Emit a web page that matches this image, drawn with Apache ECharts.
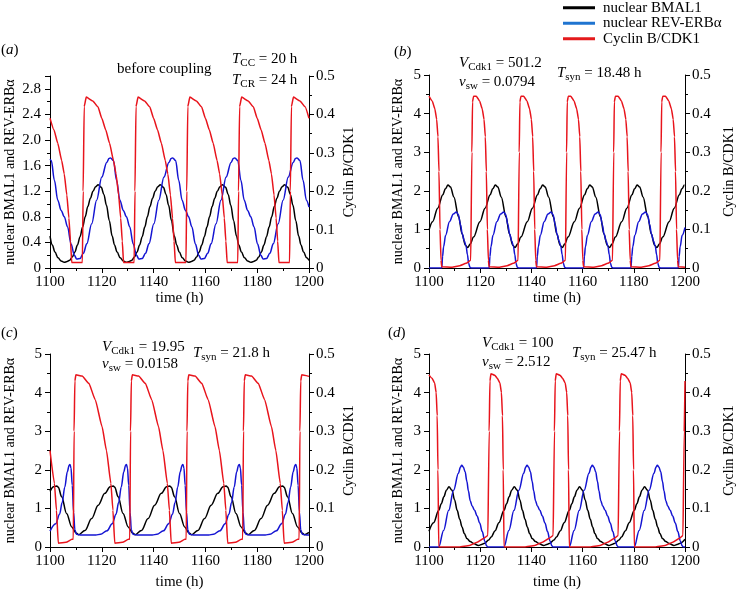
<!DOCTYPE html>
<html><head><meta charset="utf-8">
<script src="https://cdn.jsdelivr.net/npm/echarts@6/dist/echarts.min.js"></script>
<style>html,body{margin:0;padding:0;background:#fff}#c{width:737px;height:592px}</style>
</head><body><div id="c"></div><script>
const FONT = 'Liberation Serif';
const xTickValues = [1100, 1120, 1140, 1160, 1180, 1200];
const seriesNames = ['nuclear BMAL1', 'nuclear REV-ERBα', 'Cyclin B/CDK1'];

// ---------- panel (a): before coupling ----------
const aBmal1 = [
[1100,0.5],[1100.9,0.36],[1101.9,0.25],[1103.1,0.16],[1104.3,0.11],[1105.5,0.09],
[1106.6,0.10],[1107.6,0.12],[1108.6,0.17],[1109.6,0.25],[1110.6,0.36],[1111.6,0.49],[1112.6,0.64],[1113.6,0.80],[1114.6,0.96],[1115.6,1.09],[1116.6,1.20],[1117.6,1.27],[1118.6,1.30],[1119.8,1.26],[1120.8,1.15],[1121.8,0.98],[1122.9,0.74],[1124.0,0.50],[1124.9,0.36],[1125.9,0.25],[1127.1,0.16],[1128.3,0.11],[1129.5,0.09],
[1130.6,0.10],[1131.6,0.12],[1132.6,0.17],[1133.6,0.25],[1134.6,0.36],[1135.6,0.49],[1136.6,0.64],[1137.6,0.80],[1138.6,0.96],[1139.6,1.09],[1140.6,1.20],[1141.6,1.27],[1142.6,1.30],[1143.8,1.26],[1144.8,1.15],[1145.8,0.98],[1146.9,0.74],[1148.0,0.50],[1148.9,0.36],[1149.9,0.25],[1151.1,0.16],[1152.3,0.11],[1153.5,0.09],
[1154.6,0.10],[1155.6,0.12],[1156.6,0.17],[1157.6,0.25],[1158.6,0.36],[1159.6,0.49],[1160.6,0.64],[1161.6,0.80],[1162.6,0.96],[1163.6,1.09],[1164.6,1.20],[1165.6,1.27],[1166.6,1.30],[1167.8,1.26],[1168.8,1.15],[1169.8,0.98],[1170.9,0.74],[1172.0,0.50],[1172.9,0.36],[1173.9,0.25],[1175.1,0.16],[1176.3,0.11],[1177.5,0.09],
[1178.6,0.10],[1179.6,0.12],[1180.6,0.17],[1181.6,0.25],[1182.6,0.36],[1183.6,0.49],[1184.6,0.64],[1185.6,0.80],[1186.6,0.96],[1187.6,1.09],[1188.6,1.20],[1189.6,1.27],[1190.6,1.30],[1191.8,1.26],[1192.8,1.15],[1193.8,0.98],[1194.9,0.74],[1196.0,0.50],[1196.9,0.36],[1197.9,0.25],[1199.1,0.16],[1200,0.12]
];
const aRev = [
[1100,1.70],[1100.5,1.68],[1101.7,1.37],[1103.0,1.06],[1104.3,0.90],[1105.5,0.80],[1106.8,0.64],[1108.1,0.38],[1109.4,0.20],[1110.3,0.14],[1111.6,0.15],[1112.9,0.23],[1114.2,0.38],[1116.1,0.69],[1118.0,1.06],[1120.0,1.42],[1121.9,1.65],[1122.8,1.71],
[1123.4,1.72],[1124.5,1.68],[1125.7,1.37],[1127.0,1.06],[1128.3,0.90],[1129.5,0.80],[1130.8,0.64],[1132.1,0.38],[1133.4,0.20],[1134.3,0.14],[1135.6,0.15],[1136.9,0.23],[1138.2,0.38],[1140.1,0.69],[1142.0,1.06],[1144.0,1.42],[1145.9,1.65],[1146.8,1.71],
[1147.4,1.72],[1148.5,1.68],[1149.7,1.37],[1151.0,1.06],[1152.3,0.90],[1153.5,0.80],[1154.8,0.64],[1156.1,0.38],[1157.4,0.20],[1158.3,0.14],[1159.6,0.15],[1160.9,0.23],[1162.2,0.38],[1164.1,0.69],[1166.0,1.06],[1168.0,1.42],[1169.9,1.65],[1170.8,1.71],
[1171.4,1.72],[1172.5,1.68],[1173.7,1.37],[1175.0,1.06],[1176.3,0.90],[1177.5,0.80],[1178.8,0.64],[1180.1,0.38],[1181.4,0.20],[1182.3,0.14],[1183.6,0.15],[1184.9,0.23],[1186.2,0.38],[1188.1,0.69],[1190.0,1.06],[1192.0,1.42],[1193.9,1.65],[1194.8,1.71],
[1195.4,1.72],[1196.5,1.68],[1197.7,1.37],[1199.0,1.06],[1200,0.95]
];
const aCyclin = [
[1100,0.39],[1101.5,0.36],[1103,0.325],[1104.5,0.28],[1105.5,0.245],[1106.5,0.19],[1107.3,0.13],[1107.9,0.07],[1108.4,0.014],
[1112.5,0.014],[1112.8,0.2],[1113.2,0.42],[1114.0,0.445],[1116.5,0.435],[1118.5,0.42],[1120,0.39],[1121.5,0.36],[1123,0.325],[1124.5,0.28],[1125.5,0.245],[1126.5,0.19],[1127.3,0.13],[1127.9,0.07],[1128.4,0.014],
[1132.5,0.014],[1132.8,0.2],[1133.2,0.42],[1134.0,0.445],[1136.5,0.435],[1138.5,0.42],[1140,0.39],[1141.5,0.36],[1143,0.325],[1144.5,0.28],[1145.5,0.245],[1146.5,0.19],[1147.3,0.13],[1147.9,0.07],[1148.4,0.014],
[1152.5,0.014],[1152.8,0.2],[1153.2,0.42],[1154.0,0.445],[1156.5,0.435],[1158.5,0.42],[1160,0.39],[1161.5,0.36],[1163,0.325],[1164.5,0.28],[1165.5,0.245],[1166.5,0.19],[1167.3,0.13],[1167.9,0.07],[1168.4,0.014],
[1172.5,0.014],[1172.8,0.2],[1173.2,0.42],[1174.0,0.445],[1176.5,0.435],[1178.5,0.42],[1180,0.39],[1181.5,0.36],[1183,0.325],[1184.5,0.28],[1185.5,0.245],[1186.5,0.19],[1187.3,0.13],[1187.9,0.07],[1188.4,0.014],
[1192.5,0.014],[1192.8,0.2],[1193.2,0.42],[1194.0,0.445],[1196.5,0.435],[1198.5,0.42],[1200,0.39]
];

// ---------- panel (b) ----------
const bBmal1 = [
[1100,0.98],[1101.4,1.2],[1103.4,1.55],[1105.4,1.9],[1106.4,2.05],[1107.4,2.15],[1108.4,2.1],[1109.7,1.84],[1111.6,1.32],[1112.9,0.89],[1114.2,0.59],[1115.1,0.53],
[1116.1,0.62],[1117.4,0.8],[1119.9,1.2],[1121.9,1.55],[1123.9,1.9],[1124.9,2.05],[1125.9,2.15],[1126.9,2.1],[1128.2,1.84],[1130.1,1.32],[1131.4,0.89],[1132.7,0.59],[1133.6,0.53],
[1134.6,0.62],[1135.9,0.8],[1138.4,1.2],[1140.4,1.55],[1142.4,1.9],[1143.4,2.05],[1144.4,2.15],[1145.4,2.1],[1146.7,1.84],[1148.6,1.32],[1149.9,0.89],[1151.2,0.59],[1152.1,0.53],
[1153.0,0.62],[1154.3,0.8],[1156.8,1.2],[1158.8,1.55],[1160.8,1.9],[1161.8,2.05],[1162.8,2.15],[1163.8,2.1],[1165.1,1.84],[1167.0,1.32],[1168.3,0.89],[1169.6,0.59],[1170.5,0.53],
[1171.5,0.62],[1172.8,0.8],[1175.3,1.2],[1177.3,1.55],[1179.3,1.9],[1180.3,2.05],[1181.3,2.15],[1182.3,2.1],[1183.6,1.84],[1185.5,1.32],[1186.8,0.89],[1188.1,0.59],[1189.0,0.53],
[1190.0,0.62],[1191.3,0.8],[1193.8,1.2],[1195.8,1.55],[1197.8,1.9],[1198.8,2.05],[1199.8,2.15],[1200,2.15]
];
const bRev = [
[1100,0],[1105.0,0],[1105.3,0.3],[1105.7,0.55],[1106.5,0.85],[1108.0,1.2],[1109.5,1.4],[1110.7,1.45],[1111.5,1.38],[1112.3,1.12],[1113.0,0.88],[1113.8,0.7],[1114.5,0.56],[1115.0,0.35],[1115.5,0.12],[1116.0,0.02],[1116.5,0],
[1123.5,0],[1123.8,0.3],[1124.2,0.55],[1125.0,0.85],[1126.5,1.2],[1128.0,1.4],[1129.2,1.45],[1130.0,1.38],[1130.8,1.12],[1131.5,0.88],[1132.3,0.7],[1133.0,0.56],[1133.5,0.35],[1134.0,0.12],[1134.5,0.02],[1135.0,0],
[1142.0,0],[1142.3,0.3],[1142.7,0.55],[1143.5,0.85],[1145.0,1.2],[1146.5,1.4],[1147.7,1.45],[1148.5,1.38],[1149.3,1.12],[1150.0,0.88],[1150.8,0.7],[1151.5,0.56],[1152.0,0.35],[1152.5,0.12],[1153.0,0.02],[1153.5,0],
[1160.4,0],[1160.7,0.3],[1161.1,0.55],[1161.9,0.85],[1163.4,1.2],[1164.9,1.4],[1166.1,1.45],[1166.9,1.38],[1167.7,1.12],[1168.4,0.88],[1169.2,0.7],[1169.9,0.56],[1170.4,0.35],[1170.9,0.12],[1171.4,0.02],[1171.9,0],
[1178.9,0],[1179.2,0.3],[1179.6,0.55],[1180.4,0.85],[1181.9,1.2],[1183.4,1.4],[1184.6,1.45],[1185.4,1.38],[1186.2,1.12],[1186.9,0.88],[1187.7,0.7],[1188.4,0.56],[1188.9,0.35],[1189.4,0.12],[1189.9,0.02],[1190.4,0],
[1197.4,0],[1197.7,0.3],[1198.1,0.55],[1198.9,0.85],[1200,1.05]
];
const bCyclin = [
[1100,0.445],[1101.3,0.432],[1102.3,0.412],[1103.0,0.385],[1103.5,0.34],[1103.9,0.25],[1104.3,0.1],[1104.7,0.02],[1105.0,0.003],[1109.0,0.002],[1112.0,0.006],[1114.5,0.012],[1116.3,0.02],
[1116.5,0.02],[1116.75,0.3],[1117.0,0.43],[1117.4,0.445],[1118.5,0.445],[1119.8,0.432],[1120.8,0.412],[1121.5,0.385],[1122.0,0.34],[1122.4,0.25],[1122.8,0.1],[1123.2,0.02],[1123.5,0.003],[1127.5,0.002],[1130.5,0.006],[1133.0,0.012],[1134.8,0.02],
[1135.0,0.02],[1135.25,0.3],[1135.5,0.43],[1135.9,0.445],[1137.0,0.445],[1138.3,0.432],[1139.3,0.412],[1140.0,0.385],[1140.5,0.34],[1140.9,0.25],[1141.3,0.1],[1141.7,0.02],[1142.0,0.003],[1146.0,0.002],[1149.0,0.006],[1151.5,0.012],[1153.3,0.02],
[1153.5,0.02],[1153.75,0.3],[1154.0,0.43],[1154.4,0.445],[1155.4,0.445],[1156.7,0.432],[1157.7,0.412],[1158.4,0.385],[1158.9,0.34],[1159.3,0.25],[1159.7,0.1],[1160.1,0.02],[1160.4,0.003],[1164.4,0.002],[1167.4,0.006],[1169.9,0.012],[1171.7,0.02],
[1171.9,0.02],[1172.15,0.3],[1172.4,0.43],[1172.8,0.445],[1173.9,0.445],[1175.2,0.432],[1176.2,0.412],[1176.9,0.385],[1177.4,0.34],[1177.8,0.25],[1178.2,0.1],[1178.6,0.02],[1178.9,0.003],[1182.9,0.002],[1185.9,0.006],[1188.4,0.012],[1190.2,0.02],
[1190.4,0.02],[1190.65,0.3],[1190.9,0.43],[1191.3,0.445],[1192.4,0.445],[1193.7,0.432],[1194.7,0.412],[1195.4,0.385],[1195.9,0.34],[1196.3,0.25],[1196.7,0.1],[1197.1,0.02],[1197.4,0.003],[1200,0.002]
];

// ---------- panel (c) ----------
const cBmal1 = [
[1100,1.44],[1101.4,1.56],[1102.6,1.58],[1103.2,1.55],[1104.5,1.30],[1106.4,0.87],[1108.4,0.52],[1110.1,0.36],[1111.1,0.32],
[1113.5,0.43],[1116.1,0.74],[1118.6,1.08],[1121.2,1.39],[1123.2,1.56],[1124.4,1.58],[1125.0,1.55],[1126.3,1.30],[1128.2,0.87],[1130.2,0.52],[1131.9,0.36],[1132.9,0.32],
[1135.3,0.43],[1137.9,0.74],[1140.4,1.08],[1143.0,1.39],[1145.0,1.56],[1146.2,1.58],[1146.8,1.55],[1148.1,1.30],[1150.0,0.87],[1152.0,0.52],[1153.7,0.36],[1154.7,0.32],
[1157.1,0.43],[1159.7,0.74],[1162.2,1.08],[1164.8,1.39],[1166.8,1.56],[1168.0,1.58],[1168.6,1.55],[1169.9,1.30],[1171.8,0.87],[1173.8,0.52],[1175.5,0.36],[1176.5,0.32],
[1178.9,0.43],[1181.5,0.74],[1184.0,1.08],[1186.6,1.39],[1188.6,1.56],[1189.8,1.58],[1190.4,1.55],[1191.7,1.30],[1193.6,0.87],[1195.6,0.52],[1197.3,0.36],[1198.3,0.32],[1200,0.38]
];
const cRev = [
[1100,0.41],[1102.2,0.6],[1103.7,0.85],[1104.7,1.15],[1105.7,1.55],[1106.7,1.95],[1107.4,2.12],[1107.7,2.14],[1108.1,2.05],[1108.6,1.6],[1109.1,0.9],[1109.6,0.45],[1110.2,0.33],[1111.7,0.31],[1117.7,0.31],
[1119.5,0.33],[1122.0,0.42],[1124.0,0.6],[1125.5,0.85],[1126.5,1.15],[1127.5,1.55],[1128.5,1.95],[1129.2,2.12],[1129.5,2.14],[1129.9,2.05],[1130.4,1.6],[1130.9,0.9],[1131.4,0.45],[1132.0,0.33],[1133.5,0.31],[1139.5,0.31],
[1141.3,0.33],[1143.8,0.42],[1145.8,0.6],[1147.3,0.85],[1148.3,1.15],[1149.3,1.55],[1150.3,1.95],[1151.0,2.12],[1151.3,2.14],[1151.7,2.05],[1152.2,1.6],[1152.7,0.9],[1153.2,0.45],[1153.8,0.33],[1155.3,0.31],[1161.3,0.31],
[1163.1,0.33],[1165.6,0.42],[1167.6,0.6],[1169.1,0.85],[1170.1,1.15],[1171.1,1.55],[1172.1,1.95],[1172.8,2.12],[1173.1,2.14],[1173.5,2.05],[1174.0,1.6],[1174.5,0.9],[1175.0,0.45],[1175.6,0.33],[1177.1,0.31],[1183.1,0.31],
[1184.9,0.33],[1187.4,0.42],[1189.4,0.6],[1190.9,0.85],[1191.9,1.15],[1192.9,1.55],[1193.9,1.95],[1194.6,2.12],[1194.9,2.14],[1195.3,2.05],[1195.8,1.6],[1196.3,0.9],[1196.8,0.45],[1197.4,0.33],[1198.9,0.31],[1200,0.31]
];
const cCyclin = [
[1100,0.25],[1101.7,0.165],[1102.5,0.095],[1103.2,0.01],[1106.2,0.012],[1108.5,0.02],
[1109.0,0.02],[1109.3,0.3],[1109.6,0.43],[1110.0,0.446],[1112.4,0.443],[1115.0,0.424],[1117.5,0.381],[1120.1,0.312],[1121.8,0.25],[1123.5,0.165],[1124.3,0.095],[1125.0,0.01],[1128.0,0.012],[1130.3,0.02],
[1130.8,0.02],[1131.1,0.3],[1131.4,0.43],[1131.8,0.446],[1134.2,0.443],[1136.8,0.424],[1139.3,0.381],[1141.9,0.312],[1143.6,0.25],[1145.3,0.165],[1146.1,0.095],[1146.8,0.01],[1149.8,0.012],[1152.1,0.02],
[1152.6,0.02],[1152.9,0.3],[1153.2,0.43],[1153.6,0.446],[1156.0,0.443],[1158.6,0.424],[1161.1,0.381],[1163.7,0.312],[1165.4,0.25],[1167.1,0.165],[1167.9,0.095],[1168.6,0.01],[1171.6,0.012],[1173.9,0.02],
[1174.4,0.02],[1174.7,0.3],[1175.0,0.43],[1175.4,0.446],[1177.8,0.443],[1180.4,0.424],[1182.9,0.381],[1185.5,0.312],[1187.2,0.25],[1188.9,0.165],[1189.7,0.095],[1190.4,0.01],[1193.4,0.012],[1195.7,0.02],
[1196.2,0.02],[1196.5,0.3],[1196.8,0.43],[1197.2,0.446],[1200,0.442]
];

// ---------- panel (d) ----------
const dBmal1 = [
[1100,0.41],[1101.8,0.63],[1103.8,0.95],[1104.8,1.12],[1105.8,1.3],[1106.8,1.47],[1107.8,1.56],[1109.0,1.47],[1110.0,1.22],[1111.0,0.95],[1112.0,0.72],[1112.9,0.52],[1113.8,0.35],[1114.8,0.22],[1116.1,0.14],[1117.4,0.09],[1119.3,0.04],
[1120.8,0.07],[1121.8,0.10],[1123.3,0.18],[1124.3,0.26],[1125.8,0.42],[1127.3,0.63],[1129.3,0.95],[1130.3,1.12],[1131.3,1.3],[1132.3,1.47],[1133.3,1.56],[1134.5,1.47],[1135.5,1.22],[1136.5,0.95],[1137.5,0.72],[1138.4,0.52],[1139.3,0.35],[1140.3,0.22],[1141.6,0.14],[1142.9,0.09],[1144.8,0.04],
[1146.3,0.07],[1147.3,0.10],[1148.8,0.18],[1149.8,0.26],[1151.3,0.42],[1152.8,0.63],[1154.8,0.95],[1155.8,1.12],[1156.8,1.3],[1157.8,1.47],[1158.8,1.56],[1160.0,1.47],[1161.0,1.22],[1162.0,0.95],[1163.0,0.72],[1163.9,0.52],[1164.8,0.35],[1165.8,0.22],[1167.1,0.14],[1168.4,0.09],[1170.3,0.04],
[1171.7,0.07],[1172.7,0.10],[1174.2,0.18],[1175.2,0.26],[1176.7,0.42],[1178.2,0.63],[1180.2,0.95],[1181.2,1.12],[1182.2,1.3],[1183.2,1.47],[1184.2,1.56],[1185.4,1.47],[1186.4,1.22],[1187.4,0.95],[1188.4,0.72],[1189.3,0.52],[1190.2,0.35],[1191.2,0.22],[1192.5,0.14],[1193.8,0.09],[1195.7,0.04],
[1197.2,0.07],[1198.2,0.10],[1200,0.2]
];
const dRev = [
[1100,0],[1103.8,0],[1105.7,0.43],[1107.7,0.95],[1109.6,1.47],[1111.5,1.91],[1112.3,2.07],[1112.8,2.12],[1113.4,2.07],[1114.1,1.95],[1114.8,1.7],[1115.4,1.45],[1116.1,1.2],[1116.8,1.07],[1117.8,0.95],[1118.8,0.8],[1119.8,0.62],[1120.8,0.4],[1121.8,0.15],[1122.5,0.03],[1122.9,0],
[1129.3,0],[1131.2,0.43],[1133.2,0.95],[1135.1,1.47],[1137.0,1.91],[1137.8,2.07],[1138.3,2.12],[1138.9,2.07],[1139.6,1.95],[1140.3,1.7],[1140.9,1.45],[1141.6,1.2],[1142.3,1.07],[1143.3,0.95],[1144.3,0.8],[1145.3,0.62],[1146.3,0.4],[1147.3,0.15],[1148.0,0.03],[1148.4,0],
[1154.8,0],[1156.7,0.43],[1158.7,0.95],[1160.6,1.47],[1162.5,1.91],[1163.3,2.07],[1163.8,2.12],[1164.4,2.07],[1165.1,1.95],[1165.8,1.7],[1166.4,1.45],[1167.1,1.2],[1167.8,1.07],[1168.8,0.95],[1169.8,0.8],[1170.8,0.62],[1171.8,0.4],[1172.8,0.15],[1173.5,0.03],[1173.9,0],
[1180.2,0],[1182.1,0.43],[1184.1,0.95],[1186.0,1.47],[1187.9,1.91],[1188.7,2.07],[1189.2,2.12],[1189.8,2.07],[1190.5,1.95],[1191.2,1.7],[1191.8,1.45],[1192.5,1.2],[1193.2,1.07],[1194.2,0.95],[1195.2,0.8],[1196.2,0.62],[1197.2,0.4],[1198.2,0.15],[1198.9,0.03],[1199.3,0],[1200,0]
];
const dCyclin = [
[1100,0.446],[1101.2,0.437],[1102.2,0.425],[1102.8,0.40],[1103.2,0.34],[1103.5,0.2],[1103.8,0.0],[1111.8,0.0],[1115.8,0.004],[1118.8,0.012],[1121.3,0.022],[1123.0,0.03],
[1123.2,0.03],[1123.5,0.3],[1123.8,0.43],[1124.2,0.449],[1125.7,0.445],[1126.7,0.437],[1127.7,0.425],[1128.3,0.40],[1128.7,0.34],[1129.0,0.2],[1129.3,0.0],[1137.3,0.0],[1141.3,0.004],[1144.3,0.012],[1146.8,0.022],[1148.5,0.03],
[1148.7,0.03],[1149.0,0.3],[1149.3,0.43],[1149.7,0.449],[1151.2,0.445],[1152.2,0.437],[1153.2,0.425],[1153.8,0.40],[1154.2,0.34],[1154.5,0.2],[1154.8,0.0],[1162.8,0.0],[1166.8,0.004],[1169.8,0.012],[1172.3,0.022],[1173.9,0.03],
[1174.1,0.03],[1174.4,0.3],[1174.7,0.43],[1175.1,0.449],[1176.6,0.445],[1177.6,0.437],[1178.6,0.425],[1179.2,0.40],[1179.6,0.34],[1179.9,0.2],[1180.2,0.0],[1188.2,0.0],[1192.2,0.004],[1195.2,0.012],[1197.7,0.022],[1199.2,0.03],
[1199.4,0.03],[1199.7,0.3],[1200,0.43]
];

const BLACK = '#000000', BLUE = '#1414d2', RED = '#e8141c';
const panels = [
  {grid:{left:50, top:76, width:259, height:192}, lmax:3, lint:0.4, data:[aBmal1, aRev, aCyclin], lgap:33, rgap:33, xgap:23, lmargin:9},
  {grid:{left:429, top:75, width:258, height:193}, lmax:5, lint:1, data:[bBmal1, bRev, bCyclin], lgap:24, rgap:37, xgap:23, lmargin:8},
  {grid:{left:50, top:354, width:259, height:193}, lmax:5, lint:1, data:[cBmal1, cRev, cCyclin], lgap:33, rgap:33, xgap:28, lmargin:8},
  {grid:{left:429, top:354, width:258, height:193}, lmax:5, lint:1, data:[dBmal1, dRev, dCyclin], lgap:24, rgap:37, xgap:28, lmargin:8}
];

const tickTxt = {color:'#000', fontFamily:FONT, fontSize:15};
const nameTxt = {color:'#000', fontFamily:FONT, fontSize:14};
const xNameTxt = {color:'#000', fontFamily:FONT, fontSize:15};
const fmt1 = v => (Math.abs(v) < 1e-9 ? '0' : (Math.round(v*10)/10).toFixed(1));
const fmt0 = v => String(Math.round(v));
const tickStyle = {show:true, inside:false, length:5, lineStyle:{color:'#000', width:1}};
const minorStyle = {show:true, splitNumber:2, length:3, lineStyle:{color:'#000', width:1}};

const grids = [], xAxes = [], yAxes = [], series = [];
panels.forEach((p, i) => {
  grids.push(p.grid);
  xAxes.push({type:'value', gridIndex:i, min:1100, max:1200, interval:20,
    name:'time (h)', nameLocation:'middle', nameGap:p.xgap, nameTextStyle:xNameTxt,
    axisLine:{show:true, onZero:false, lineStyle:{color:'#000', width:1}},
    axisTick:tickStyle, minorTick:minorStyle, splitLine:{show:false}, minorSplitLine:{show:false},
    axisLabel:Object.assign({margin:7, formatter: v => (xTickValues.indexOf(Math.round(v))>=0 ? String(Math.round(v)) : '')}, tickTxt)});
  yAxes.push({type:'value', gridIndex:i, position:'left', min:0, max:p.lmax, interval:p.lint,
    name:'nuclear BMAL1 and REV-ERBα', nameLocation:'middle', nameRotate:90, nameGap:p.lgap, nameTextStyle:nameTxt,
    axisLine:{show:true, onZero:false, lineStyle:{color:'#000', width:1}},
    axisTick:tickStyle, minorTick:minorStyle, splitLine:{show:false}, minorSplitLine:{show:false},
    axisLabel:Object.assign({margin:p.lmargin, showMaxLabel: p.lmax === 3 ? false : true, formatter: p.lint < 1 ? fmt1 : fmt0}, tickTxt)});
  yAxes.push({type:'value', gridIndex:i, position:'right', min:0, max:0.5, interval:0.1,
    name:'Cyclin B/CDK1', nameLocation:'middle', nameRotate:90, nameGap:p.rgap, nameTextStyle:nameTxt,
    axisLine:{show:true, onZero:false, lineStyle:{color:'#000', width:1}},
    axisTick:tickStyle, minorTick:minorStyle, splitLine:{show:false}, minorSplitLine:{show:false},
    axisLabel:Object.assign({margin:7, formatter: fmt1}, tickTxt)});
  const cols = [BLACK, BLUE, RED];
  p.data.forEach((d, k) => {
    series.push({type:'line', name:seriesNames[k], xAxisIndex:i, yAxisIndex: k === 2 ? 2*i+1 : 2*i,
      data:d, showSymbol:false, symbol:'none', smooth: k === 2 ? 0.15 : 0.35, smoothMonotone:'x',
      lineStyle:{color:cols[k], width:1.5}, itemStyle:{color:cols[k]}, z: 2 + k});
  });
});

const rich = {
  n:{fontFamily:FONT, fontSize:15, lineHeight:19, color:'#000'},
  i:{fontFamily:FONT, fontSize:15, lineHeight:19, fontStyle:'italic', color:'#000'},
  s:{fontFamily:FONT, fontSize:11, lineHeight:11, verticalAlign:'bottom', color:'#000'}
};
function T(x, y, text) {
  return {type:'text', x:x, y:y, style:{text:text, rich:rich, font:'15px "Liberation Serif"', fill:'#000',
    align:'left', verticalAlign:'middle', textAlign:'left', textVerticalAlign:'middle'}};
}
const labels = [
  T(1, 50, '{n|(}{i|a}{n|)}'),
  T(117, 69, '{n|before coupling}'),
  T(232, 59, '{i|T}{s|CC}{n| = 20 h}'),
  T(232, 80, '{i|T}{s|CR}{n| = 24 h}'),
  T(394, 52, '{n|(}{i|b}{n|)}'),
  T(459, 63, '{i|V}{s|Cdk1}{n| = 501.2}'),
  T(459, 82, '{i|v}{s|sw}{n| = 0.0794}'),
  T(557, 73, '{i|T}{s|syn}{n| = 18.48 h}'),
  T(1, 333, '{n|(}{i|c}{n|)}'),
  T(102, 347, '{i|V}{s|Cdk1}{n| = 19.95}'),
  T(102, 364, '{i|v}{s|sw}{n| = 0.0158}'),
  T(193, 353, '{i|T}{s|syn}{n| = 21.8 h}'),
  T(388, 333, '{n|(}{i|d}{n|)}'),
  T(482, 343, '{i|V}{s|Cdk1}{n| = 100}'),
  T(482, 362, '{i|v}{s|sw}{n| = 2.512}'),
  T(572, 353, '{i|T}{s|syn}{n| = 25.47 h}')
];

const chart = echarts.init(document.getElementById('c'), null, {renderer:'canvas'});
chart.setOption({
  animation:false,
  backgroundColor:'#fff',
  legend:{orient:'vertical', left:563, top:0, padding:0, itemWidth:32, itemHeight:3, itemGap:0,
    icon:'rect', selectedMode:false,
    textStyle:{color:'#000', fontFamily:FONT, fontSize:15, lineHeight:15.5, padding:[0,0,0,3]},
    data:[{name:seriesNames[0], itemStyle:{color:'#000'}},
          {name:seriesNames[1], itemStyle:{color:'#1f74d0'}},
          {name:seriesNames[2], itemStyle:{color:'#e41a1c'}}]},
  grid:grids, xAxis:xAxes, yAxis:yAxes, series:series,
  graphic:{elements:labels}
});
</script></body></html>
